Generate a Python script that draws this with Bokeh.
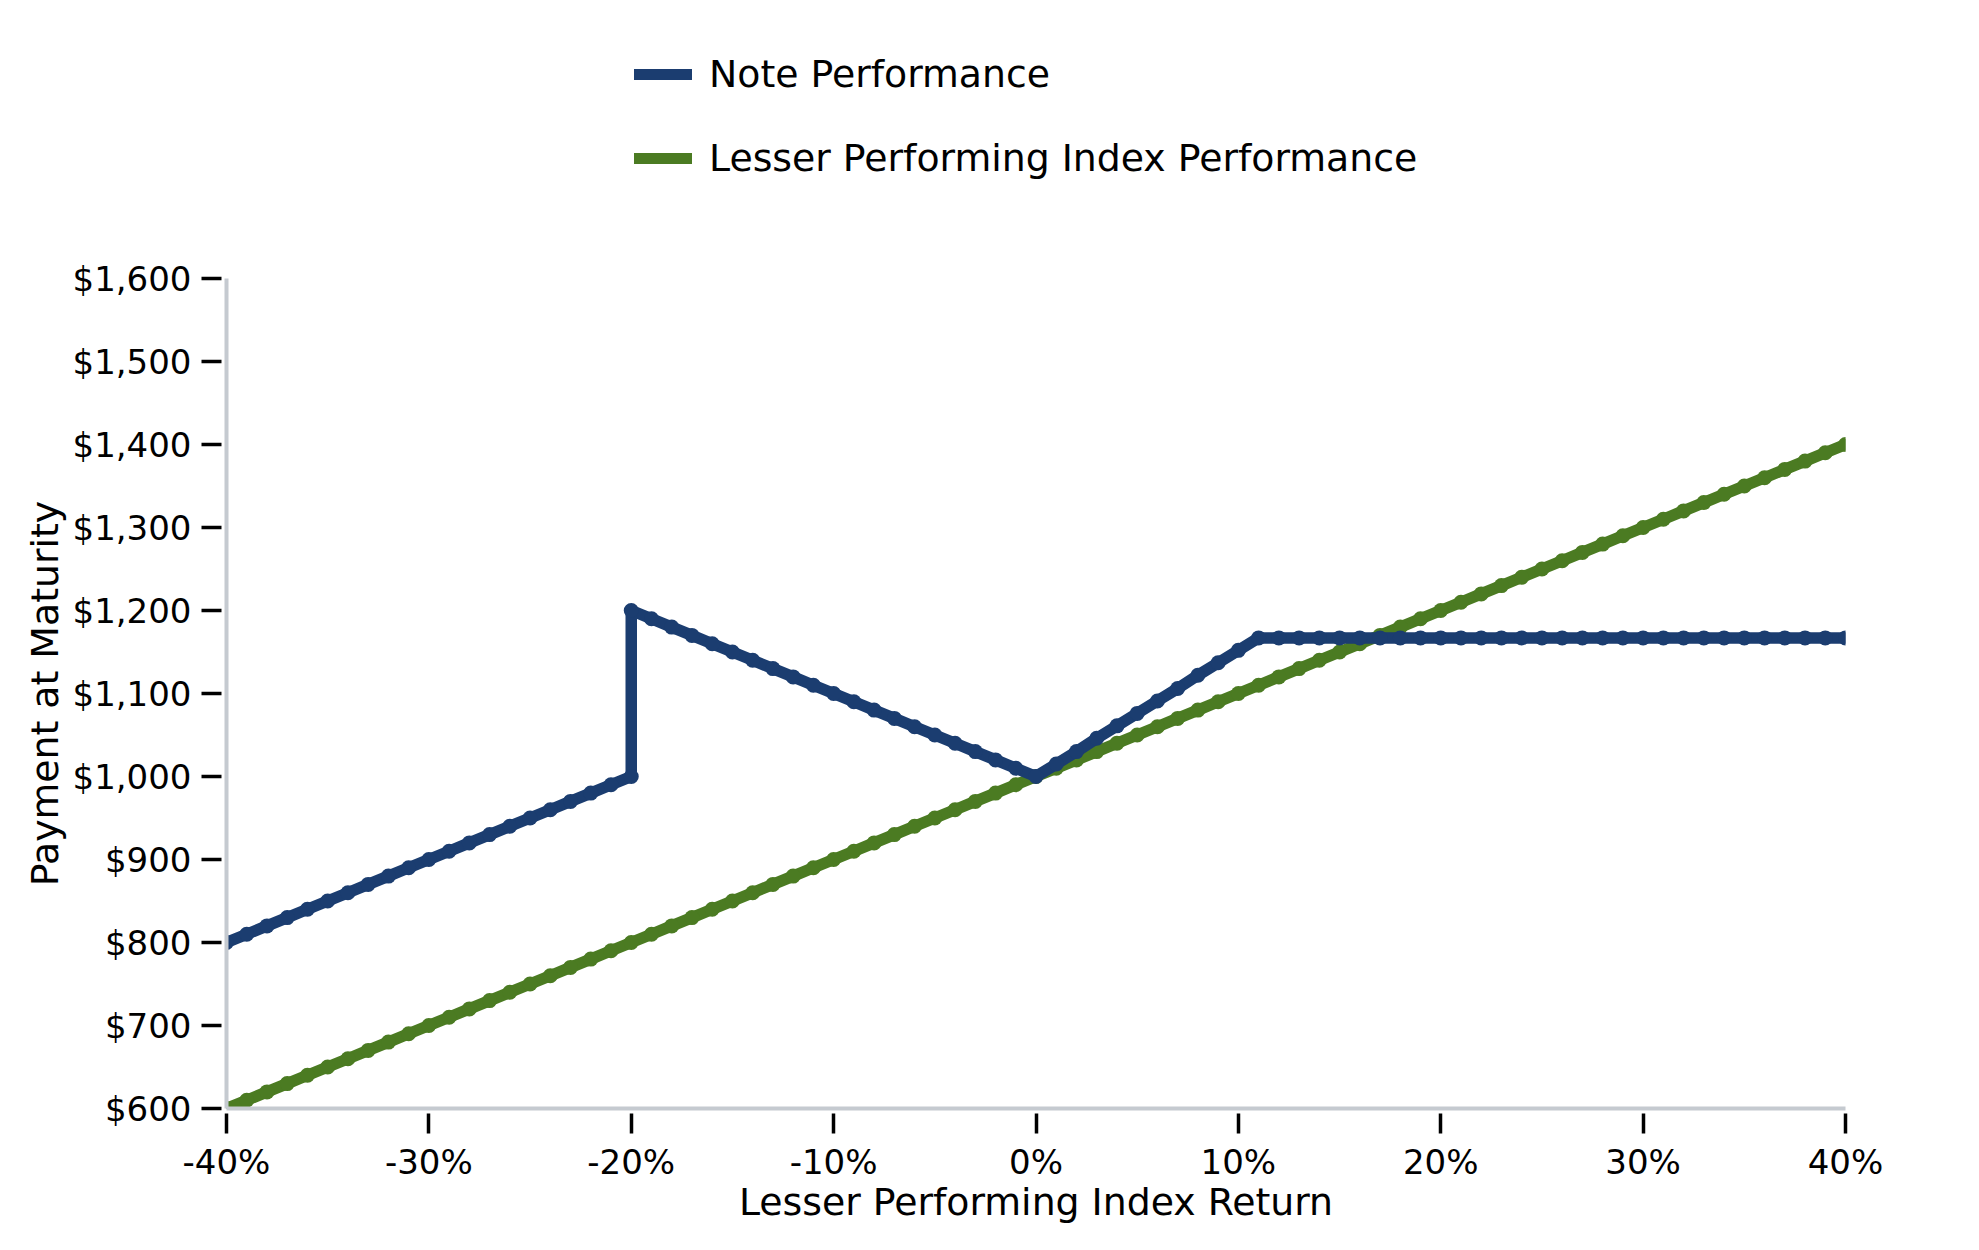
from bokeh.plotting import figure
from bokeh.layouts import column
from bokeh.models import (FixedTicker, NumeralTickFormatter, PrintfTickFormatter,
                          Legend, LegendItem, Range1d)
from bokeh.embed import file_html
from bokeh.resources import INLINE

# ---- data ----
index_returns = [-40, -39, -38, -37, -36, -35, -34, -33, -32, -31, -30,
                 -29, -28, -27, -26, -25, -24, -23, -22, -21, -20,
                 -19, -18, -17, -16, -15, -14, -13, -12, -11, -10,
                 -9, -8, -7, -6, -5, -4, -3, -2, -1, 0,
                 1, 2, 3, 4, 5, 6, 7, 8, 9, 10,
                 11, 12, 13, 14, 15, 16, 17, 18, 19, 20,
                 21, 22, 23, 24, 25, 26, 27, 28, 29, 30,
                 31, 32, 33, 34, 35, 36, 37, 38, 39, 40]

index_payment = [600, 610, 620, 630, 640, 650, 660, 670, 680, 690, 700,
                 710, 720, 730, 740, 750, 760, 770, 780, 790, 800,
                 810, 820, 830, 840, 850, 860, 870, 880, 890, 900,
                 910, 920, 930, 940, 950, 960, 970, 980, 990, 1000,
                 1010, 1020, 1030, 1040, 1050, 1060, 1070, 1080, 1090, 1100,
                 1110, 1120, 1130, 1140, 1150, 1160, 1170, 1180, 1190, 1200,
                 1210, 1220, 1230, 1240, 1250, 1260, 1270, 1280, 1290, 1300,
                 1310, 1320, 1330, 1340, 1350, 1360, 1370, 1380, 1390, 1400]

note_returns = [-40, -39, -38, -37, -36, -35, -34, -33, -32, -31, -30,
                -29, -28, -27, -26, -25, -24, -23, -22, -21, -20, -20,
                -19, -18, -17, -16, -15, -14, -13, -12, -11, -10,
                -9, -8, -7, -6, -5, -4, -3, -2, -1, 0,
                1, 2, 3, 4, 5, 6, 7, 8, 9, 10,
                11, 12, 13, 14, 15, 16, 17, 18, 19, 20,
                21, 22, 23, 24, 25, 26, 27, 28, 29, 30,
                31, 32, 33, 34, 35, 36, 37, 38, 39, 40]

note_payment = [800, 810, 820, 830, 840, 850, 860, 870, 880, 890, 900,
                910, 920, 930, 940, 950, 960, 970, 980, 990, 1000, 1200,
                1190, 1180, 1170, 1160, 1150, 1140, 1130, 1120, 1110, 1100,
                1090, 1080, 1070, 1060, 1050, 1040, 1030, 1020, 1010, 1000,
                1015, 1030, 1046, 1061, 1076, 1091, 1106, 1122, 1137, 1152,
                1167, 1167, 1167, 1167, 1167, 1167, 1167, 1167, 1167, 1167,
                1167, 1167, 1167, 1167, 1167, 1167, 1167, 1167, 1167, 1167,
                1167, 1167, 1167, 1167, 1167, 1167, 1167, 1167, 1167, 1167]

x_ticks = [-40, -30, -20, -10, 0, 10, 20, 30, 40]
y_ticks = [600, 700, 800, 900, 1000, 1100, 1200, 1300, 1400, 1500, 1600]

series_names = ["Note Performance", "Lesser Performing Index Performance"]
NOTE_COLOR = "#1b3d70"
INDEX_COLOR = "#4b7b22"
FONT = "DejaVu Sans"

LEG_H = 220
BL, BR, FW = 226, 115, 1619

# ---- main chart ----
p = figure(frame_width=FW, frame_height=830,
           min_border_left=BL, min_border_right=BR,
           min_border_top=278 - LEG_H, min_border_bottom=122,
           x_range=Range1d(-40, 40), y_range=Range1d(600, 1600),
           output_backend="svg", toolbar_location=None,
           background_fill_color="white", border_fill_color="white")
p.outline_line_color = None
p.xgrid.visible = False
p.ygrid.visible = False

p.line(index_returns, index_payment, line_color=INDEX_COLOR, line_width=11.5,
       line_cap="round", line_join="round")
p.scatter(index_returns, index_payment, size=15, marker="circle",
          fill_color=INDEX_COLOR, line_color=None)

p.line(note_returns, note_payment, line_color=NOTE_COLOR, line_width=11.5,
       line_cap="round", line_join="round")
p.scatter(note_returns, note_payment, size=15, marker="circle",
          fill_color=NOTE_COLOR, line_color=None)

for ax in (p.xaxis[0], p.yaxis[0]):
    ax.axis_line_color = "#c5cad0"
    ax.axis_line_width = 4
    ax.major_tick_line_color = "black"
    ax.major_tick_line_width = 3.5
    ax.major_tick_in = -5
    ax.major_tick_out = 25
    ax.minor_tick_line_color = None
    ax.major_label_text_font = FONT
    ax.major_label_text_font_size = "34px"
    ax.major_label_text_color = "black"
    ax.axis_label_text_font = FONT
    ax.axis_label_text_font_size = "37.8px"
    ax.axis_label_text_font_style = "normal"
    ax.axis_label_text_color = "black"

p.xaxis.ticker = FixedTicker(ticks=x_ticks)
p.xaxis.formatter = PrintfTickFormatter(format="%d%%")
p.xaxis.major_label_standoff = 8
p.xaxis.axis_label = "Lesser Performing Index Return"
p.xaxis.axis_label_standoff = -5

p.yaxis.ticker = FixedTicker(ticks=y_ticks)
p.yaxis.formatter = NumeralTickFormatter(format="$0,0")
p.yaxis.major_label_standoff = 10
p.yaxis.axis_label = "Payment at Maturity"
p.yaxis.axis_label_standoff = 3

# ---- legend strip (above the chart, same frame alignment) ----
lg = figure(frame_width=FW, frame_height=LEG_H,
            min_border_left=BL, min_border_right=BR,
            min_border_top=0, min_border_bottom=0,
            x_range=Range1d(0, 1), y_range=Range1d(0, 1),
            x_axis_type=None, y_axis_type=None,
            output_backend="svg", toolbar_location=None,
            background_fill_color="white", border_fill_color="white")
lg.outline_line_color = None
lg.xgrid.visible = False
lg.ygrid.visible = False
# single-point renderers: draw nothing themselves, only feed the legend swatches
r_note = lg.line(note_returns[:1], note_payment[:1], line_color=NOTE_COLOR,
                 line_width=11, line_cap="round")
r_idx = lg.line(index_returns[:1], index_payment[:1], line_color=INDEX_COLOR,
                line_width=11, line_cap="round")

legend = Legend(items=[LegendItem(label=series_names[0], renderers=[r_note]),
                       LegendItem(label=series_names[1], renderers=[r_idx])],
                location=(634 - BL, LEG_H - 183), orientation="vertical",
                padding=0, margin=0, spacing=34,
                glyph_width=58, glyph_height=50, label_height=50,
                label_standoff=17,
                label_text_font=FONT, label_text_font_size="37.8px",
                label_text_color="black",
                border_line_color=None, background_fill_alpha=0)
lg.add_layout(legend)

layout = column(lg, p, spacing=0)
open("out.html", "w").write(file_html(layout, INLINE))
